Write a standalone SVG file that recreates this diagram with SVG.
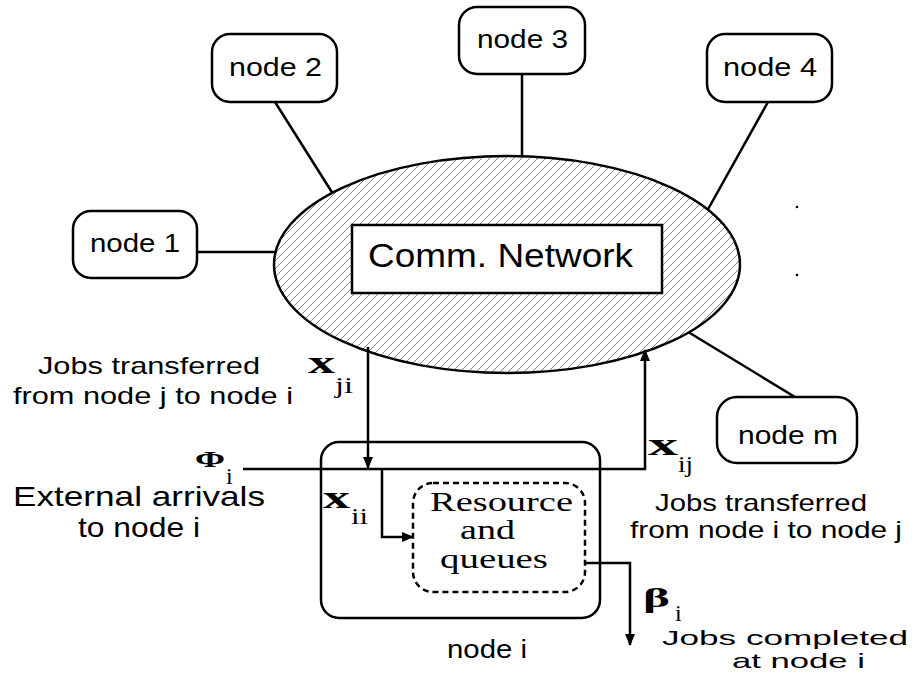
<svg xmlns="http://www.w3.org/2000/svg" width="914" height="681" viewBox="0 0 914 681">
<defs>
<pattern id="hatch" patternUnits="userSpaceOnUse" width="8" height="8">
<rect width="8" height="8" fill="#fff"/>
<path d="M-1,1 l2,-2 M0,8 l8,-8 M7,9 l2,-2" stroke="#333" stroke-width="0.6"/>
</pattern>
<marker id="arr" markerWidth="12" markerHeight="10" refX="11" refY="5" orient="auto" markerUnits="userSpaceOnUse">
<path d="M0,0 L12,5 L0,10 z" fill="#000"/>
</marker>
<style>
.box{fill:#fff;stroke:#000;stroke-width:2.5}
.ln{fill:none;stroke:#000;stroke-width:2.5}
.sans{font-family:"Liberation Sans",Arial,sans-serif;fill:#000}
.serif{font-family:"Liberation Serif","Times New Roman",serif;fill:#000}
.lbl{font-size:26px}
.two{font-size:24px}
.math{font-weight:bold;font-size:31px}
.sub{font-size:24px}
</style>
</defs>
<g id="links">
<line class="ln" x1="197" y1="252" x2="290" y2="252"/>
<line class="ln" x1="275" y1="102" x2="340" y2="205"/>
<line class="ln" x1="522" y1="74" x2="522" y2="170"/>
<line class="ln" x1="768" y1="102" x2="702" y2="220"/>
<line class="ln" x1="795" y1="397" x2="680" y2="327"/>
</g>
<g id="network">
<ellipse cx="507" cy="264.5" rx="233" ry="108.5" fill="url(#hatch)" stroke="#000" stroke-width="2.5"/>
<rect class="box" x="352" y="225" width="310" height="68"/>
<text class="sans" x="368" y="267" font-size="34" textLength="265" lengthAdjust="spacingAndGlyphs">Comm. Network</text>
</g>
<g id="node1"><rect class="box" x="73" y="211" width="124" height="67" rx="18"/><text class="sans lbl" x="90" y="252" textLength="90" lengthAdjust="spacingAndGlyphs">node 1</text></g>
<g id="node2"><rect class="box" x="212" y="34" width="125" height="68" rx="18"/><text class="sans lbl" x="229" y="76" textLength="93" lengthAdjust="spacingAndGlyphs">node 2</text></g>
<g id="node3"><rect class="box" x="459" y="7" width="126" height="67" rx="18"/><text class="sans lbl" x="477" y="48" textLength="91" lengthAdjust="spacingAndGlyphs">node 3</text></g>
<g id="node4"><rect class="box" x="707" y="34" width="125" height="68" rx="18"/><text class="sans lbl" x="723" y="76" textLength="94" lengthAdjust="spacingAndGlyphs">node 4</text></g>
<g id="nodem"><rect class="box" x="717" y="397" width="140" height="66" rx="20"/><text class="sans lbl" x="738" y="444" textLength="100" lengthAdjust="spacingAndGlyphs">node m</text></g>
<g id="dots"><circle cx="797" cy="207" r="1.3" fill="#000"/><circle cx="797" cy="275" r="1.3" fill="#000"/></g>
<g id="nodei">
<rect class="box" x="321" y="442" width="279" height="176" rx="18"/>
<text class="sans lbl" x="447" y="658" textLength="80" lengthAdjust="spacingAndGlyphs">node i</text>
</g>
<g id="resource">
<rect x="413" y="483" width="172" height="109" rx="20" fill="#fff" stroke="#000" stroke-width="2.5" stroke-dasharray="6,4"/>
<text class="serif" font-size="27" x="430" y="511" textLength="143" lengthAdjust="spacingAndGlyphs">Resource</text>
<text class="serif" font-size="27" x="460" y="539" textLength="55" lengthAdjust="spacingAndGlyphs">and</text>
<text class="serif" font-size="27" x="440" y="568" textLength="108" lengthAdjust="spacingAndGlyphs">queues</text>
</g>
<g id="connectors">
<line class="ln" x1="368" y1="347" x2="368" y2="468" marker-end="url(#arr)"/>
<polyline class="ln" points="243,469 645,469 645,350" marker-end="url(#arr)"/>
<polyline class="ln" points="382,469 382,537 413,537" marker-end="url(#arr)"/>
<polyline class="ln" points="585,563 630,563 630,645" marker-end="url(#arr)"/>
</g>
<g id="labels">
<text class="sans two" x="38" y="374" textLength="222" lengthAdjust="spacingAndGlyphs">Jobs transferred</text>
<text class="sans two" x="13" y="404" textLength="280" lengthAdjust="spacingAndGlyphs">from node j to node i</text>
<text class="serif math" x="308" y="373" textLength="27" lengthAdjust="spacingAndGlyphs">x</text>
<text class="serif sub" x="335" y="393" textLength="18" lengthAdjust="spacingAndGlyphs">ji</text>
<text class="serif" font-weight="bold" font-size="24" x="195" y="467" textLength="30" lengthAdjust="spacingAndGlyphs">Φ</text>
<text class="serif sub" x="226" y="484">i</text>
<text class="sans" font-size="28" x="13" y="506" textLength="252" lengthAdjust="spacingAndGlyphs">External arrivals</text>
<text class="sans" font-size="28" x="78" y="537" textLength="122" lengthAdjust="spacingAndGlyphs">to node i</text>
<text class="serif math" x="323" y="508" textLength="27" lengthAdjust="spacingAndGlyphs">x</text>
<text class="serif sub" x="351" y="524" textLength="17" lengthAdjust="spacingAndGlyphs">ii</text>
<text class="serif math" x="648" y="455" textLength="30" lengthAdjust="spacingAndGlyphs">x</text>
<text class="serif sub" x="678" y="472" textLength="15" lengthAdjust="spacingAndGlyphs">ij</text>
<text class="sans two" x="655" y="511" textLength="212" lengthAdjust="spacingAndGlyphs">Jobs transferred</text>
<text class="sans two" x="630" y="538" textLength="272" lengthAdjust="spacingAndGlyphs">from node i to node j</text>
<text class="serif" font-weight="bold" font-size="28" x="643" y="607" textLength="27" lengthAdjust="spacingAndGlyphs">β</text>
<text class="serif sub" x="675" y="621">i</text>
<text class="sans" font-size="21" x="662" y="645" textLength="246" lengthAdjust="spacingAndGlyphs">Jobs completed</text>
<text class="sans" font-size="21" x="732" y="668" textLength="133" lengthAdjust="spacingAndGlyphs">at node i</text>
</g>
</svg>
